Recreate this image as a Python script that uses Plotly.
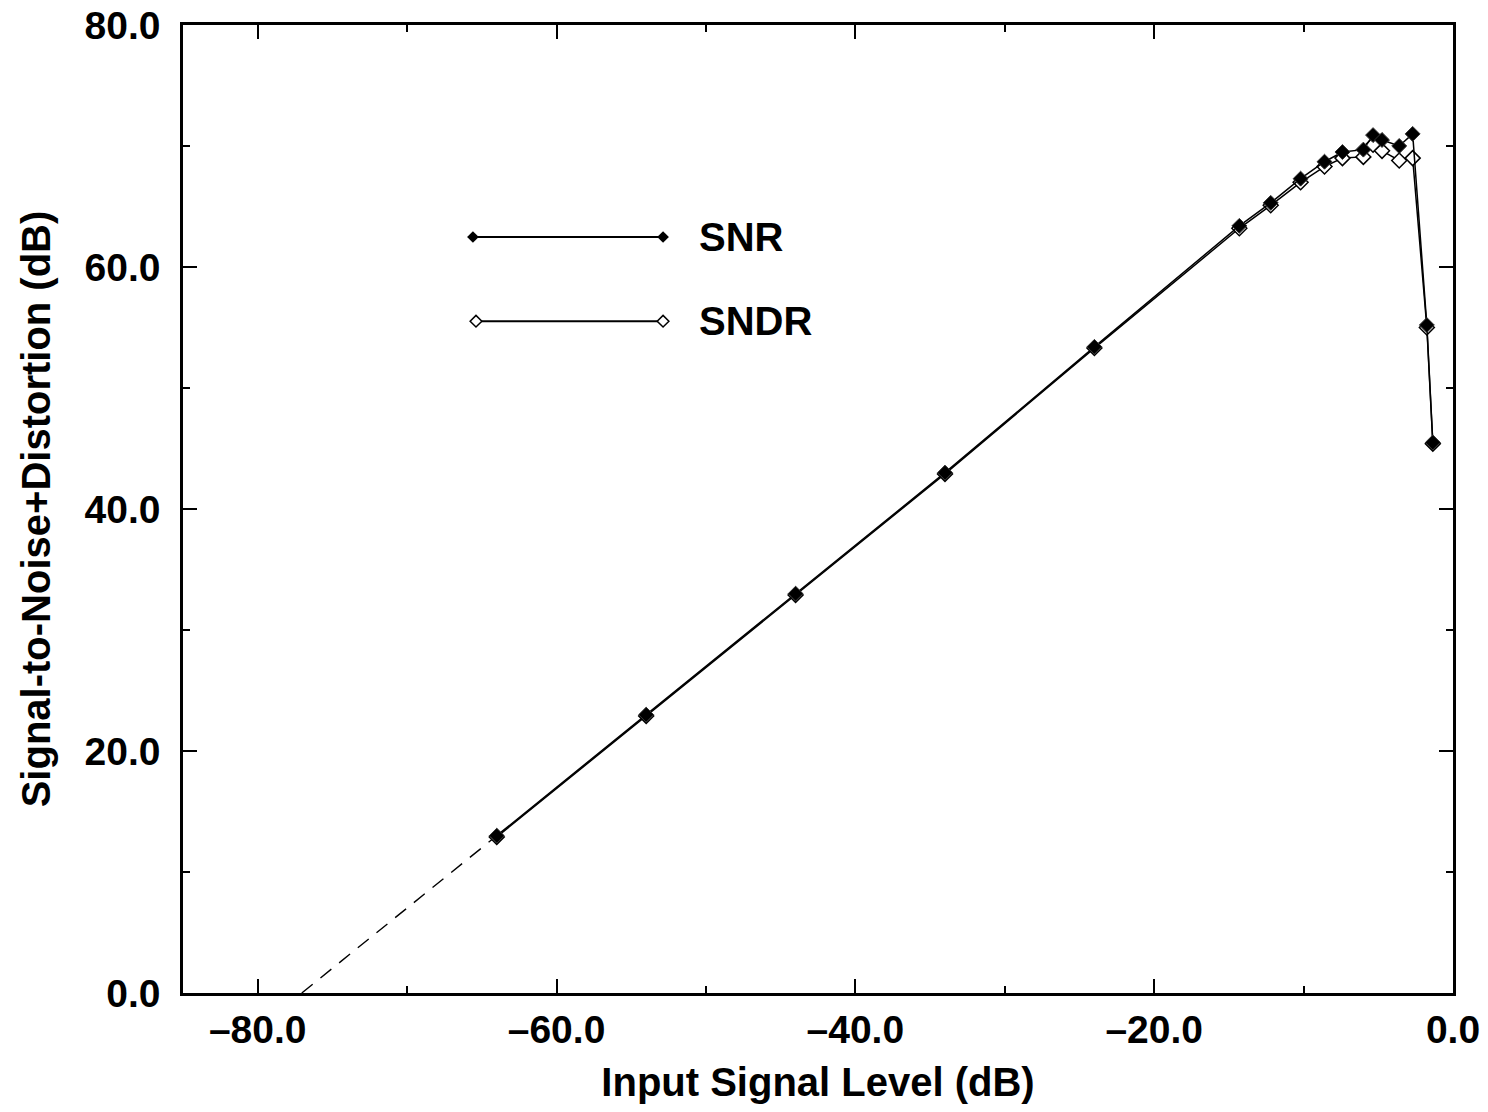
import plotly.graph_objects as go

# Data
input_level = [-64.0, -54.0, -44.0, -34.0, -24.0, -14.3, -12.2, -10.2, -8.6, -7.4,
               -6.0, -5.35, -4.75, -3.6, -2.7, -1.75, -1.35]
snr = [13.0, 23.0, 33.0, 43.0, 53.4, 63.4, 65.3, 67.3, 68.7, 69.5,
       69.7, 70.9, 70.5, 70.0, 71.0, 55.2, 45.5]
sndr = [12.9, 22.9, 32.9, 42.9, 53.3, 63.2, 65.1, 67.0, 68.3, 69.0,
        69.1, 70.1, 69.6, 68.8, 69.0, 55.0, 45.4]

# Extrapolated (dashed) extension of the SNR line to 0 dB
extrap_x = [-77.05, -64.0]
extrap_y = [0.0, 13.0]

x_ticks = [-80, -60, -40, -20, 0]
y_ticks = [0, 20, 40, 60, 80]
x_labels = ["\u201380.0", "\u201360.0", "\u201340.0", "\u201320.0", "0.0"]
y_labels = ["0.0", "20.0", "40.0", "60.0", "80.0"]

series_names = ["SNR", "SNDR"]

FONT = "Liberation Sans, Arial, Helvetica, sans-serif"
BLACK = "#000000"

fig = go.Figure()

fig.add_trace(go.Scatter(
    x=extrap_x, y=extrap_y, mode="lines",
    line=dict(color=BLACK, width=1.4, dash="14px,10px"),
    showlegend=False, hoverinfo="skip"))

fig.add_trace(go.Scatter(
    x=input_level, y=sndr, mode="lines+markers", name=series_names[1],
    line=dict(color=BLACK, width=1.5),
    marker=dict(symbol="diamond", size=11.5, color="white",
                line=dict(color=BLACK, width=1.5)),
    showlegend=False))

fig.add_trace(go.Scatter(
    x=input_level, y=snr, mode="lines+markers", name=series_names[0],
    line=dict(color=BLACK, width=1.5),
    marker=dict(symbol="diamond", size=11.5, color=BLACK,
                line=dict(color="#333333", width=1)),
    showlegend=False))

# Hand-drawn style legend on an overlay axis in [0, 1] units
fig.add_trace(go.Scatter(
    x=[0.2283, 0.378], y=[0.781, 0.781], xaxis="x2", yaxis="y2",
    mode="lines+markers", line=dict(color=BLACK, width=2),
    marker=dict(symbol="diamond", size=9, color=BLACK),
    showlegend=False, hoverinfo="skip"))
fig.add_trace(go.Scatter(
    x=[0.2307, 0.378], y=[0.694, 0.694], xaxis="x2", yaxis="y2",
    mode="lines+markers", line=dict(color=BLACK, width=2),
    marker=dict(symbol="diamond", size=9, color="white",
                line=dict(color=BLACK, width=1.5)),
    showlegend=False, hoverinfo="skip"))

for name, yy in zip(series_names, [0.781, 0.694]):
    fig.add_annotation(x=0.4045, y=yy, xref="paper", yref="paper",
                       text="<b>%s</b>" % name, showarrow=False,
                       xanchor="left", yanchor="middle",
                       font=dict(family=FONT, size=40, color=BLACK))

axis_common = dict(
    showgrid=False, zeroline=False, showline=True, linecolor=BLACK,
    linewidth=2.5, mirror="ticks", ticks="inside", ticklen=14,
    tickwidth=2, tickcolor=BLACK, automargin=False,
    tickfont=dict(family=FONT, size=39, color=BLACK, weight="bold"),
)

fig.update_layout(
    width=1488, height=1112,
    margin=dict(l=183, r=35, t=25, b=119),
    plot_bgcolor="white", paper_bgcolor="white",
    font=dict(family=FONT, color=BLACK),
    xaxis=dict(
        range=[-85, 0], tickvals=x_ticks, ticktext=x_labels,
        minor=dict(dtick=10, tick0=0, ticks="inside", ticklen=7,
                   tickwidth=2, tickcolor=BLACK, showgrid=False),
        title=dict(text="<b>Input Signal Level (dB)</b>",
                   font=dict(family=FONT, size=40, color=BLACK), standoff=19),
        ticklabelstandoff=0,
        **axis_common),
    yaxis=dict(
        range=[0, 80], tickvals=y_ticks, ticktext=y_labels,
        minor=dict(dtick=10, tick0=0, ticks="inside", ticklen=7,
                   tickwidth=2, tickcolor=BLACK, showgrid=False),
        title=dict(text="<b>Signal-to-Noise+Distortion (dB)</b>",
                   font=dict(family=FONT, size=40, color=BLACK), standoff=22),
        ticklabelstandoff=12,
        **axis_common),
    xaxis2=dict(range=[0, 1], overlaying="x", visible=False, fixedrange=True),
    yaxis2=dict(range=[0, 1], overlaying="y", visible=False, fixedrange=True),
)

fig.write_html("out.html")
